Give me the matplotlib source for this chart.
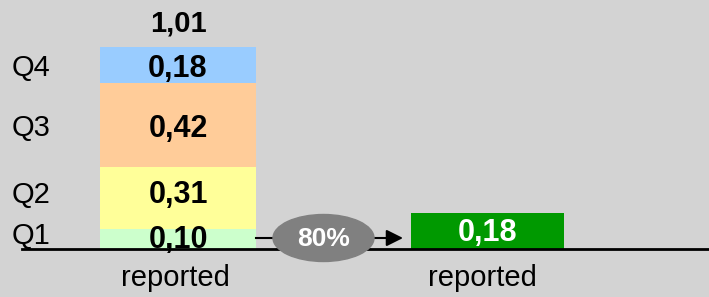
import matplotlib.pyplot as plt
from matplotlib.patches import Ellipse

quarters = ["Q1", "Q2", "Q3", "Q4"]
q_values = [0.10, 0.31, 0.42, 0.18]
q_labels = ["0,10", "0,31", "0,42", "0,18"]
q_colors = ["#ccffcc", "#ffff99", "#ffcc99", "#99ccff"]
total_label = "1,01"
result_value = 0.18
result_label = "0,18"
ratio_label = "80%"
x_labels = ["reported", "reported"]

plt.rcParams['font.family'] = ['Liberation Sans', 'DejaVu Sans']

fig = plt.figure(figsize=(7.09, 2.97), dpi=100, facecolor='#d3d3d3')
ax = fig.add_axes([0, 0, 1, 1])
ax.set_facecolor('#d3d3d3')
ax.set_xlim(0, 709)
ax.set_ylim(-0.24, 1.245)
ax.axis('off')

# stacked bar
bottom = 0
val_nudge = [1.5, 4.5, 0, 0]
lab_nudge = [4.5, 4.5, 0, 0]
for q, v, lab, c, n1, n2 in zip(quarters, q_values, q_labels, q_colors, val_nudge, lab_nudge):
    ax.bar(178, v, bottom=bottom, width=156, color=c, zorder=2)
    mid = bottom + v / 2
    ax.annotate(lab, (178, mid), xytext=(0, n1), textcoords='offset points',
                ha='center', va='center_baseline', fontsize=22, fontweight='bold', zorder=4)
    ax.annotate(q, (12, mid), xytext=(0, n2), textcoords='offset points',
                ha='left', va='center_baseline', fontsize=21, zorder=4)
    bottom += v
ax.text(178, bottom + 0.13, total_label, ha='center', va='center_baseline',
        fontsize=21, fontweight='bold')

# result bar
ax.bar(487.5, result_value, width=153, color='#009900', zorder=2)
ax.text(487.5, result_value / 2 + 0.005, result_label, ha='center', va='center_baseline',
        fontsize=22, fontweight='bold', color='white', zorder=4)

# baseline
ax.plot([22, 709], [0, 0], color='black', lw=2, zorder=3)

# ratio ellipse and arrow
ey = 0.055
ax.plot([256, 290], [ey, ey], color='black', lw=1.5, zorder=3)
ax.annotate('', xy=(403, ey), xytext=(360, ey),
            arrowprops=dict(arrowstyle='-|>', color='black', lw=1.5,
                            mutation_scale=25, shrinkA=0, shrinkB=0), zorder=3)
ax.add_patch(Ellipse((323.5, ey), 101, 0.235, color='#808080', zorder=5))
ax.text(323.5, 0.0625, ratio_label, ha='center', va='center_baseline', fontsize=19,
        fontweight='bold', color='white', zorder=6)

for x, lab in zip([175, 482], x_labels):
    ax.text(x, -0.185, lab, ha='center', va='baseline', fontsize=21)

fig.savefig('out.png', dpi=100, facecolor='#d3d3d3')
